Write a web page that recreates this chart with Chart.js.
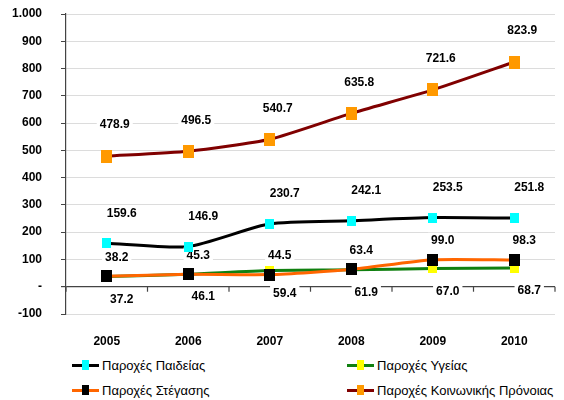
<!DOCTYPE html>
<html>
<head>
<meta charset="utf-8">
<script src="https://cdn.jsdelivr.net/npm/chart.js@4/dist/chart.umd.min.js"></script>
<style>
  html, body { margin: 0; padding: 0; background: #fff; overflow: hidden; }
  #wrap { position: absolute; left: 0; top: 0; width: 564px; height: 352px; }
  #legend { position: absolute; left: 0; top: 352px; width: 564px; height: 48px; }
  .item { position: absolute; height: 18px; display: flex; align-items: center; color: #000; white-space: nowrap; }
  .sym { position: relative; width: 27px; height: 12px; margin-right: 3px; }
  .sym .ln { position: absolute; left: 0; right: 0; top: 5px; height: 3px; }
  .sym .mk { position: absolute; left: 10px; top: 1px; width: 7px; height: 10px; }
</style>
</head>
<body>
<div id="wrap"><canvas id="chart"></canvas></div>
<div id="legend"></div>
<script>
const years = ['2005', '2006', '2007', '2008', '2009', '2010'];
const education = [159.6, 146.9, 230.7, 242.1, 253.5, 251.8];
const health = [37.2, 46.1, 59.4, 61.9, 67.0, 68.7];
const housing = [38.2, 45.3, 44.5, 63.4, 99.0, 98.3];
const welfare = [478.9, 496.5, 540.7, 635.8, 721.6, 823.9];

// use the narrow font when it is installed
function hasFont(name) {
    const c = document.createElement('canvas').getContext('2d');
    c.font = '20px monospace';
    const a = c.measureText('0123456789 Παροχές').width;
    c.font = '20px "' + name + '", monospace';
    return c.measureText('0123456789 Παροχές').width !== a;
}
const NARROW = hasFont('Liberation Sans Narrow');
const FAMILY = NARROW ? '"Liberation Sans Narrow", "Liberation Sans", Arial, sans-serif' : '"Liberation Sans", Arial, sans-serif';
const NUM_SIZE = NARROW ? 14 : 12;
const LEGEND_SIZE = NARROW ? 15 : 13;

function marker(color, w, h) {
    const c = document.createElement('canvas');
    c.width = w;
    c.height = h;
    const g = c.getContext('2d');
    g.fillStyle = color;
    g.fillRect(0, 0, w, h);
    return c;
}

const datasets = [
    {
        label: 'Παροχές Παιδείας', data: education, order: 0,
        borderColor: '#000000', pointBackgroundColor: '#00FFFF',
        pointStyle: marker('#00FFFF', 9, 10), labelDx: 15, labelDy: -30
    },
    {
        label: 'Παροχές Υγείας', data: health, order: 3,
        borderColor: '#108010', pointBackgroundColor: '#FFFF00',
        pointStyle: marker('#FFFF00', 9, 10), labelDx: 15, labelDy: 23
    },
    {
        label: 'Παροχές Στέγασης', data: housing, order: 1,
        borderColor: '#FF6600', pointBackgroundColor: '#000000',
        pointStyle: marker('#000000', 11, 12), labelDx: 10, labelDy: -19
    },
    {
        label: 'Παροχές Κοινωνικής Πρόνοιας', data: welfare, order: 2,
        borderColor: '#800000', pointBackgroundColor: '#FF9900',
        pointStyle: marker('#FF9900', 11, 13), labelDx: 8, labelDy: -31
    }
];

datasets.forEach(ds => {
    ds.borderWidth = 3;
    ds.pointRadius = 6;
    ds.tension = 0.2;
    ds.fill = false;
});

// zero line tick marks between categories
const zeroTicks = {
    id: 'zeroTicks',
    beforeDatasetsDraw(chart) {
        const ctx = chart.ctx;
        const x = chart.scales.x;
        const y0 = chart.scales.y.getPixelForValue(0);
        ctx.save();
        ctx.strokeStyle = '#444';
        ctx.lineWidth = 1.2;
        for (let i = 0; i <= years.length; i++) {
            let px;
            if (i === 0) px = chart.chartArea.left;
            else if (i === years.length) px = chart.chartArea.right;
            else px = (x.getPixelForValue(i - 1) + x.getPixelForValue(i)) / 2;
            ctx.beginPath();
            ctx.moveTo(px, y0);
            ctx.lineTo(px, y0 + 5);
            ctx.stroke();
        }
        ctx.restore();
    }
};

// value labels on white boxes, then the markers again on top
const pointLabels = {
    id: 'pointLabels',
    afterDatasetsDraw(chart) {
        const ctx = chart.ctx;
        ctx.save();
        ctx.font = 'bold ' + NUM_SIZE + 'px ' + FAMILY;
        ctx.textAlign = 'center';
        ctx.textBaseline = 'middle';
        chart.data.datasets.forEach((ds, i) => {
            const meta = chart.getDatasetMeta(i);
            meta.data.forEach((pt, j) => {
                const text = ds.data[j].toFixed(1);
                const lx = pt.x + ds.labelDx;
                const ly = pt.y + ds.labelDy;
                const w = ctx.measureText(text).width + 6;
                ctx.fillStyle = '#ffffff';
                ctx.fillRect(lx - w / 2, ly - 8, w, 16);
                ctx.fillStyle = '#000000';
                ctx.fillText(text, lx, ly);
            });
        });
        ctx.restore();
        const metas = chart.getSortedVisibleDatasetMetas().slice().reverse();
        metas.forEach(m => m.data.forEach(p => p.draw(ctx, chart.chartArea)));
    }
};

const tickFont = { family: FAMILY, size: NUM_SIZE, weight: 'bold' };

const chart = new Chart(document.getElementById('chart'), {
    type: 'line',
    data: { labels: years, datasets: datasets },
    plugins: [zeroTicks, pointLabels],
    options: {
        responsive: true,
        maintainAspectRatio: false,
        animation: false,
        layout: { padding: { left: 0, right: 3, top: 14, bottom: 0 } },
        plugins: {
            legend: { display: false },
            tooltip: { enabled: false }
        },
        scales: {
            x: {
                offset: true,
                grid: { display: false, drawTicks: false },
                border: { display: false },
                afterFit: s => { s.height = 38; },
                ticks: { padding: 20, color: '#000', font: tickFont }
            },
            y: {
                min: -100,
                max: 1000,
                afterFit: s => { s.width = 66; s.paddingTop = 0; s.paddingBottom = 0; },
                ticks: {
                    stepSize: 100,
                    padding: 19,
                    color: '#000',
                    font: tickFont,
                    callback: v => v === 0 ? '-' : (v === 1000 ? '1.000' : String(v))
                },
                grid: {
                    color: c => c.tick && c.tick.value === 0 ? '#444' : '#dcdcdc',
                    lineWidth: c => c.tick && c.tick.value === 0 ? 1.2 : 1,
                    tickColor: '#444',
                    tickLength: 5
                },
                border: { display: true, color: '#444', width: 1.2 }
            }
        }
    }
});

// legend, two columns
const legend = document.getElementById('legend');
legend.style.fontFamily = FAMILY;
legend.style.fontSize = LEGEND_SIZE + 'px';
const cols = [72, 347];
datasets.forEach((ds, i) => {
    const item = document.createElement('div');
    item.className = 'item';
    item.style.left = cols[i % 2] + 'px';
    item.style.top = (4 + Math.floor(i / 2) * 25) + 'px';
    item.innerHTML = '<div class="sym"><div class="ln" style="background:' + ds.borderColor +
        '"></div><div class="mk" style="background:' + ds.pointBackgroundColor + '"></div></div>' +
        '<span>' + ds.label + '</span>';
    legend.appendChild(item);
});
</script>
</body>
</html>
